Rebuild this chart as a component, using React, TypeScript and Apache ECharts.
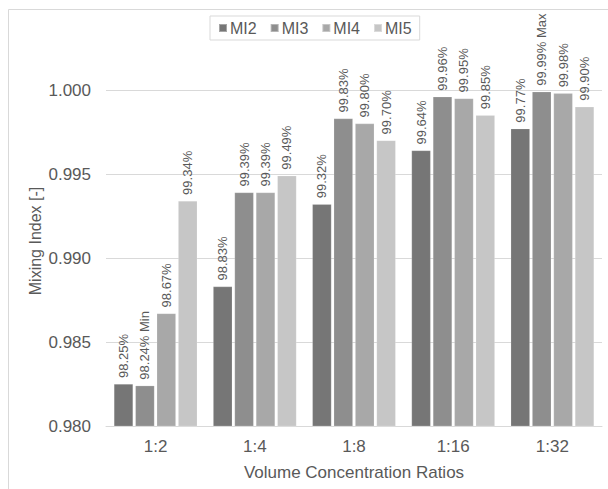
import React, { useEffect, useRef } from "react";
import * as echarts from "echarts";

const categories = ["1:2", "1:4", "1:8", "1:16", "1:32"];
const seriesNames = ["MI2", "MI3", "MI4", "MI5"];
const mi2 = [0.9825, 0.9883, 0.9932, 0.9964, 0.9977];
const mi3 = [0.9824, 0.9939, 0.9983, 0.9996, 0.9999];
const mi4 = [0.9867, 0.9939, 0.998, 0.9995, 0.9998];
const mi5 = [0.9934, 0.9949, 0.997, 0.9985, 0.999];
const labelNotes: Record<string, string[]> = {
  MI3: ["Min", "", "", "", "Max"],
};
const yTicks = { min: 0.98, max: 1.0, interval: 0.005 };
const colors = ["#767676", "#8e8e8e", "#a8a8a8", "#c6c6c6"];
const yTitle = "Mixing Index [-]";
const xTitle = "Volume Concentration Ratios";

export default function App() {
  const ref = useRef<HTMLDivElement>(null);
  useEffect(() => {
    if (!ref.current) return;
    const chart = echarts.init(ref.current, undefined, { renderer: "svg" });
    const values = [mi2, mi3, mi4, mi5];
    const font = "Liberation Sans, Arial, sans-serif";
    chart.setOption({
      animation: false,
      backgroundColor: "#ffffff",
      textStyle: { fontFamily: font },
      graphic: [
        {
          type: "rect",
          shape: { x: 8.5, y: 9.5, width: 700, height: 600 },
          style: { fill: "none", stroke: "#d9d9d9", lineWidth: 1 },
          silent: true,
        },
        {
          type: "text",
          x: 35,
          y: 241,
          rotation: Math.PI / 2,
          style: {
            text: yTitle,
            fontSize: 16,
            fontFamily: font,
            fill: "#595959",
            align: "center",
            verticalAlign: "middle",
          },
          silent: true,
        },
      ],
      legend: {
        data: seriesNames,
        top: 16,
        left: 210,
        itemWidth: 8,
        itemHeight: 8,
        itemGap: 13,
        padding: [4, 8, 4, 8],
        borderColor: "#d9d9d9",
        borderWidth: 1,
        icon: "rect",
        textStyle: { fontSize: 16, color: "#595959", fontFamily: font, padding: [0, 0, 0, -2] },
      },
      grid: { left: 106, right: 6, top: 90, bottom: 63, containLabel: false },
      xAxis: {
        type: "category",
        data: categories,
        name: xTitle,
        nameLocation: "middle",
        nameGap: 38,
        nameTextStyle: { fontSize: 17, color: "#595959", fontFamily: font },
        axisLine: { lineStyle: { color: "#d9d9d9" } },
        axisTick: { show: false },
        axisLabel: { fontSize: 17, color: "#595959", margin: 12, fontFamily: font },
      },
      yAxis: {
        type: "value",
        min: yTicks.min,
        max: yTicks.max,
        interval: yTicks.interval,
        axisLine: { show: false },
        axisTick: { show: false },
        splitLine: { lineStyle: { color: "#d9d9d9" } },
        axisLabel: {
          fontSize: 17,
          color: "#595959",
          margin: 15,
          fontFamily: font,
          formatter: (v: number) => v.toFixed(3),
        },
      },
      series: seriesNames.map((name, i) => ({
        name,
        type: "bar",
        data: values[i],
        barGap: "12%",
        barCategoryGap: "16%",
        itemStyle: { color: colors[i], borderColor: "rgba(255,255,255,0.35)", borderWidth: 0.5 },
        label: {
          show: true,
          position: "top",
          distance: 6,
          rotate: 90,
          align: "left",
          verticalAlign: "middle",
          fontSize: 13,
          color: "#595959",
          fontFamily: font,
          formatter: (p: any) => {
            const note = labelNotes[name] ? labelNotes[name][p.dataIndex] : "";
            const t = (p.value * 100).toFixed(2) + "%";
            return note ? t + " " + note : t;
          },
        },
      })),
    });
    return () => chart.dispose();
  }, []);
  return (
    <div
      ref={ref}
      style={{ position: "fixed", left: 0, top: 0, width: 608, height: 489 }}
    />
  );
}
